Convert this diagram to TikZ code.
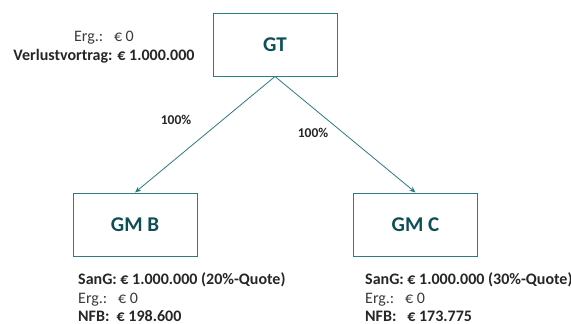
\documentclass[tikz,border=0pt]{standalone}
\usepackage{fontspec}
\setmainfont{Carlito}
\usetikzlibrary{arrows.meta}
\definecolor{boxc}{HTML}{2A7B82}
\definecolor{titc}{HTML}{0E4F55}
\definecolor{txtc}{HTML}{262626}
\definecolor{grc}{HTML}{3A3A3A}
\begin{document}
\begin{tikzpicture}[x=1pt,y=-1pt,
  ent/.style={draw=boxc,line width=1pt,minimum width=124pt,minimum height=63pt,inner sep=0pt,
     font=\fontsize{21}{24}\selectfont\bfseries,text=titc},
  conn/.style={draw=boxc,line width=0.8pt,-{Stealth[length=6pt,width=5pt]}},
  lab/.style={font=\fontsize{13.5}{16}\selectfont\bfseries,text=txtc},
  info/.style={font=\fontsize{16}{18.5}\selectfont,text=grc,inner sep=0pt,align=left,anchor=north west}]
\useasboundingbox (0,0) rectangle (571,324);
\node[ent] (gt) at (275,44.5) {GT};
\node[ent] (gmb) at (135,224.5) {GM B};
\node[ent] (gmc) at (415.5,224.5) {GM C};
\draw[conn] (gt.south) -- (gmb.north);
\draw[conn] (gt.south) -- (gmc.north);
\node[lab] (l1) at (176,120) {100\%};
\node[lab] (l2) at (313,133) {100\%};
\node[info,anchor=north,align=center] (tl) at (104,31) {Erg.:\ \ \ € 0\\\textcolor{txtc}{\textbf{Verlustvortrag: € 1.000.000}}};
\node[info] (bl) at (78,272.5) {\textcolor{txtc}{\textbf{SanG: € 1.000.000 (20\%-Quote)}}\\Erg.:\ \ \ € 0\\\textcolor{txtc}{\textbf{NFB:\ \ € 198.600}}};
\node[info] (cl) at (365,272.5) {\textcolor{txtc}{\textbf{SanG: € 1.000.000 (30\%-Quote)}}\\Erg.:\ \ \ € 0\\\textcolor{txtc}{\textbf{NFB:\ \ \ € 173.775}}};
\end{tikzpicture}
\end{document}
